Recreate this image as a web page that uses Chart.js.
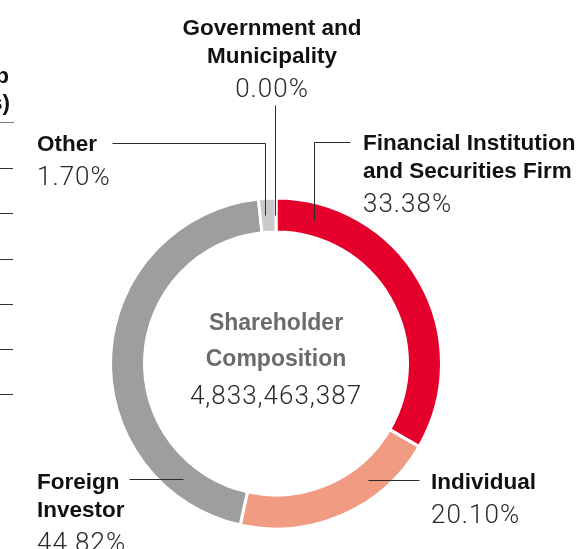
<!DOCTYPE html>
<html>
<head>
<meta charset="utf-8">
<script src="https://cdn.jsdelivr.net/npm/chart.js@4/dist/chart.umd.min.js"></script>
<style>
  html, body { margin: 0; padding: 0; background: #ffffff; }
  #wrap { position: relative; width: 579px; height: 549px; }
</style>
</head>
<body>
<div id="wrap"><canvas id="c" width="579" height="549"></canvas></div>
<script>
// Shareholder composition, clockwise from 12 o'clock
const categories = ['Financial Institution and Securities Firm', 'Individual', 'Foreign Investor', 'Other', 'Government and Municipality'];
const shares = [33.38, 20.10, 44.82, 1.70, 0.00];
const labelLines = [
  ['Financial Institution', 'and Securities Firm'],
  ['Individual'],
  ['Foreign', 'Investor'],
  ['Other'],
  ['Government and', 'Municipality']
];
const centerTitle = ['Shareholder', 'Composition'];
const totalShares = '4,833,463,387';

// Colours per segment
const sliceColors = ['#E4002B', '#F09B82', '#9D9F9E', '#C9CAC9', '#C9CAC9'];

// Label placement: text anchor, alignment and leader path.
// 'v' leaders drop vertically to the middle of the ring at x; 'h' leaders run horizontally at y.
const labelLayout = [
  { x: 363, y: 150, align: 'left',   leader: { kind: 'v', from: [[350, 142], [314, 142]], x: 314 } },
  { x: 431, y: 489, align: 'left',   leader: { kind: 'h', from: [[419, 480]], y: 480, side: 1 } },
  { x: 37,  y: 489, align: 'left',   leader: { kind: 'h', from: [[129, 479]], y: 479, side: -1 } },
  { x: 37,  y: 151, align: 'left',   leader: { kind: 'v', from: [[112, 143], [265, 143]], x: 265 } },
  { x: 272, y: 35,  align: 'center', leader: { kind: 'v', from: [[275, 105]], x: 275 } }
];

const BOLD = 'bold 22.5px "Liberation Sans", Arial, sans-serif';
const LIGHT = '300 26px Roboto, "Liberation Sans", sans-serif';
const LINE_GAP = 28;
const PCT_GAP = 34;

const annotations = {
  id: 'annotations',
  afterDraw(chart) {
    const ctx = chart.ctx;
    const arc = chart.getDatasetMeta(0).data[0];
    const cx = arc.x, cy = arc.y;
    const rMid = (arc.innerRadius + arc.outerRadius) / 2;

    ctx.save();
    // leader lines
    ctx.strokeStyle = '#2b2b2b';
    ctx.lineWidth = 1;
    labelLayout.forEach((lay) => {
      const L = lay.leader;
      const pts = L.from.slice();
      if (L.kind === 'v') {
        const dx = L.x - cx;
        pts.push([L.x, cy - Math.sqrt(rMid * rMid - dx * dx)]);
      } else {
        const dy = L.y - cy;
        pts.push([cx + L.side * Math.sqrt(rMid * rMid - dy * dy), L.y]);
      }
      ctx.beginPath();
      pts.forEach((p, i) => {
        const px = Math.round(p[0]) + 0.5, py = Math.round(p[1]) + 0.5;
        if (i === 0) ctx.moveTo(px, py); else ctx.lineTo(px, py);
      });
      ctx.stroke();
    });

    // category labels and percentages
    ctx.textBaseline = 'alphabetic';
    labelLayout.forEach((lay, i) => {
      ctx.textAlign = lay.align;
      ctx.fillStyle = '#111111';
      ctx.font = BOLD;
      ctx.letterSpacing = '0px';
      let y = lay.y;
      labelLines[i].forEach((line, k) => {
        if (k > 0) y += LINE_GAP;
        ctx.fillText(line, lay.x, y);
      });
      ctx.font = LIGHT;
      ctx.fillStyle = '#2a2a2a';
      ctx.letterSpacing = '1px';
      ctx.fillText(shares[i].toFixed(2) + '%', lay.x, y + PCT_GAP);
    });

    // centre text
    ctx.textAlign = 'center';
    ctx.letterSpacing = '0px';
    ctx.fillStyle = '#6b6b6b';
    ctx.font = 'bold 23px "Liberation Sans", Arial, sans-serif';
    ctx.fillText(centerTitle[0], cx, 330);
    ctx.fillText(centerTitle[1], cx, 366);
    ctx.fillStyle = '#2a2a2a';
    ctx.font = '300 26px Roboto, "Liberation Sans", sans-serif';
    ctx.letterSpacing = '1px';
    ctx.fillText(totalShares, cx, 404);

    // edge of the neighbouring table on the left
    ctx.letterSpacing = '0px';
    ctx.textAlign = 'right';
    ctx.fillStyle = '#111111';
    ctx.font = BOLD;
    ctx.fillText('(Group', 9, 83);
    ctx.fillText('(Unit: shares)', 10, 110);
    ctx.strokeStyle = '#777777';
    ctx.beginPath(); ctx.moveTo(0, 122.5); ctx.lineTo(14, 122.5); ctx.stroke();
    ctx.strokeStyle = '#333333';
    [168, 213, 259, 304, 349, 394].forEach((ly) => {
      ctx.beginPath(); ctx.moveTo(0, ly + 0.5); ctx.lineTo(13, ly + 0.5); ctx.stroke();
    });
    ctx.restore();
  }
};

new Chart(document.getElementById('c'), {
  type: 'doughnut',
  data: {
    labels: categories,
    datasets: [{
      data: shares,
      backgroundColor: sliceColors,
      borderColor: '#ffffff',
      borderWidth: 3,
      hoverOffset: 0
    }]
  },
  options: {
    responsive: false,
    animation: false,
    radius: 165.5,
    cutout: '79.46%',
    layout: { padding: { top: 178, right: 27, left: 0, bottom: 0 } },
    plugins: {
      legend: { display: false },
      tooltip: { enabled: false }
    }
  },
  plugins: [annotations]
});
</script>
</body>
</html>
